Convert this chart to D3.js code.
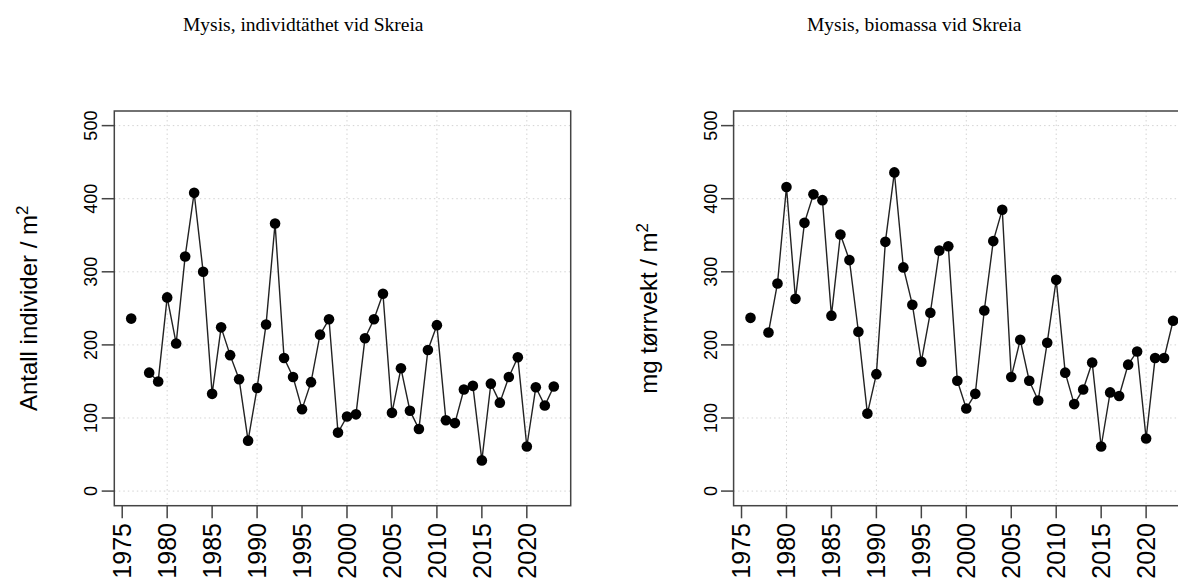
<!DOCTYPE html>
<html><head><meta charset="utf-8">
<script src="https://cdn.jsdelivr.net/npm/d3@7"></script>
<style>body{margin:0;background:#fff}svg{display:block}</style>
</head><body><svg id="c" width="1178" height="585"></svg>
<script>
const years = d3.range(1976, 2024);
const individtathet = [236,null,162,150,265,202,321,408,300,133,
  224,186,153,69,141,228,366,182,156,112,
  149,214,235,80,102,105,209,235,270,107,
  168,110,85,193,227,97,93,139,144,42,
  147,121,156,183,61,142,117,143];
const biomassa = [237,null,217,284,416,263,367,406,398,240,
  351,316,218,106,160,341,436,306,255,177,
  244,329,335,151,113,133,247,342,385,156,
  207,151,124,203,289,162,119,139,176,61,
  135,130,173,191,72,182,182,233];
const yTicks = [0,100,200,300,400,500];
const xTicks = [1975,1980,1985,1990,1995,2000,2005,2010,2015,2020];
const xGrid = [1980,1990,2000,2010,2020];
const titles = ["Mysis, individtäthet vid Skreia", "Mysis, biomassa vid Skreia"];
const yLabels = ["Antall individer / m", "mg tørrvekt / m"];

const svg = d3.select("#c");
const plotTop = 111, plotBottom = 505.7;
const panels = [
  {left:114.3, right:570.7, values:individtathet, title:titles[0], titleX:183, ylab:yLabels[0]},
  {left:733.6, right:1190, values:biomassa, title:titles[1], titleX:807, ylab:yLabels[1]}
];
const y = d3.scaleLinear().domain([-20,520]).range([plotBottom, plotTop]);
const sans = "'Liberation Sans', Arial, sans-serif";

panels.forEach(p => {
  const x = d3.scaleLinear().domain([1974.12, 2024.88]).range([p.left, p.right]);
  const g = svg.append("g");
  g.selectAll(".hg").data(yTicks).join("line")
    .attr("x1", p.left).attr("x2", p.right).attr("y1", d=>y(d)).attr("y2", d=>y(d))
    .attr("stroke", "#d3d3d3").attr("stroke-width", 1).attr("stroke-dasharray", "1.5,3");
  g.selectAll(".vg").data(xGrid).join("line")
    .attr("x1", d=>x(d)).attr("x2", d=>x(d)).attr("y1", plotTop).attr("y2", plotBottom)
    .attr("stroke", "#d3d3d3").attr("stroke-width", 1).attr("stroke-dasharray", "1.5,3");
  const data = years.map((yr,i)=>({yr, v:p.values[i]}));
  const line = d3.line().defined(d=>d.v!=null).x(d=>x(d.yr)).y(d=>y(d.v));
  g.append("path").attr("d", line(data)).attr("fill","none").attr("stroke","#222").attr("stroke-width",1.4);
  g.selectAll("circle").data(data.filter(d=>d.v!=null)).join("circle")
    .attr("cx", d=>x(d.yr)).attr("cy", d=>y(d.v)).attr("r", 5.3).attr("fill", "#000");
  g.append("rect").attr("x", p.left).attr("y", plotTop).attr("width", p.right-p.left).attr("height", plotBottom-plotTop)
    .attr("fill","none").attr("stroke","#444").attr("stroke-width",1.5);
  g.selectAll(".yt").data(yTicks).join("line")
    .attr("x1", p.left).attr("x2", p.left-12.6).attr("y1", d=>y(d)).attr("y2", d=>y(d))
    .attr("stroke","#444").attr("stroke-width",1.5);
  g.selectAll(".yl").data(yTicks).join("text")
    .attr("transform", d=>`translate(${p.left-17},${y(d)}) rotate(-90)`)
    .attr("text-anchor","middle").attr("font-family", sans).attr("font-size", 18).attr("fill","#000")
    .text(d=>d);
  g.selectAll(".xt").data(xTicks).join("line")
    .attr("x1", d=>x(d)).attr("x2", d=>x(d)).attr("y1", plotBottom).attr("y2", plotBottom+12.6)
    .attr("stroke","#444").attr("stroke-width",1.5);
  g.selectAll(".xl").data(xTicks).join("text")
    .attr("transform", d=>`translate(${x(d)},523) rotate(-90)`)
    .attr("text-anchor","end").attr("dy","0.35em").attr("font-family", sans).attr("font-size", 25).attr("fill","#000")
    .text(d=>d);
  const yt = g.append("text")
    .attr("transform", `translate(${p.left-77},${(plotTop+plotBottom)/2}) rotate(-90)`)
    .attr("text-anchor","middle").attr("font-family", sans).attr("font-size", 24).attr("fill","#000");
  yt.append("tspan").text(p.ylab);
  yt.append("tspan").attr("baseline-shift","super").attr("font-size",17).text("2");
  svg.append("text").attr("x", p.titleX).attr("y", 31)
    .attr("font-family", "'Liberation Serif', 'Times New Roman', serif").attr("font-size", 19.5).attr("fill","#000")
    .text(p.title);
});
</script></body></html>
